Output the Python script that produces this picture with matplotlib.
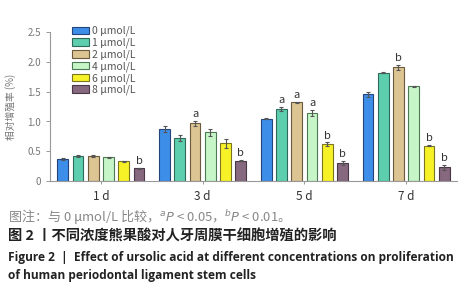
import matplotlib
matplotlib.use('Agg')
import matplotlib.pyplot as plt
import numpy as np

plt.rcParams['font.family'] = ['Noto Sans CJK SC', 'DejaVu Sans']

days = ['1 d', '3 d', '5 d', '7 d']
concs = ['0 μmol/L', '1 μmol/L', '2 μmol/L', '4 μmol/L', '6 μmol/L', '8 μmol/L']

# rows = concentration, cols = day
means = np.array([
    [0.37, 0.87, 1.05, 1.46],
    [0.42, 0.73, 1.21, 1.82],
    [0.42, 0.97, 1.32, 1.91],
    [0.40, 0.82, 1.14, 1.59],
    [0.33, 0.63, 0.62, 0.59],
    [0.21, 0.34, 0.30, 0.23],
])
errs = np.array([
    [0.01, 0.05, 0.01, 0.04],
    [0.01, 0.05, 0.04, 0.01],
    [0.01, 0.04, 0.01, 0.04],
    [0.01, 0.06, 0.05, 0.01],
    [0.01, 0.08, 0.03, 0.01],
    [0.01, 0.01, 0.04, 0.04],
])
marks = [
    ['', '', '', ''],
    ['', '', 'a', ''],
    ['', 'a', 'a', 'b'],
    ['', '', 'a', ''],
    ['', '', 'b', 'b'],
    ['b', 'b', 'b', 'b'],
]

colors = ['#3d8ee8', '#5ecfae', '#dcc493', '#c6f5c8', '#f7f227', '#86687f']
edges = ['#24447a', '#2f6b5a', '#6b5a3e', '#4d7a55', '#7a7520', '#4a3848']

fig = plt.figure(figsize=(4.77, 3.0), dpi=100)
ax = fig.add_axes([0.105, 0.397, 0.853, 0.495])

x = np.arange(len(days))
step = 0.15
width = 0.105
for i in range(len(concs)):
    xs = x + (i - 2.5) * step
    ax.bar(xs, means[i], width, color=colors[i], edgecolor=edges[i], linewidth=0.8,
           yerr=errs[i], error_kw=dict(ecolor='#555555', elinewidth=0.8, capsize=1.5, capthick=0.8),
           label=concs[i])
    for j in range(len(days)):
        if marks[i][j]:
            ax.text(xs[j], means[i][j] + errs[i][j] + 0.03, marks[i][j],
                    ha='center', va='bottom', fontsize=8, color='#333333')

ax.set_xlim(-0.5, 3.5)
ax.set_ylim(0, 2.5)
ax.set_yticks([0, 0.5, 1.0, 1.5, 2.0, 2.5])
ax.set_yticklabels(['0', '0.5', '1.0', '1.5', '2.0', '2.5'])
ax.set_xticks(x)
ax.set_xticklabels(days, fontsize=8.5, color='#333333')
ax.tick_params(axis='y', labelsize=7, labelcolor='#777777', color='#999999', length=3, width=0.7)
ax.tick_params(axis='x', color='#999999', length=2.5, width=0.7, pad=4)
for s in ['top', 'right']:
    ax.spines[s].set_visible(False)
for s in ['left', 'bottom']:
    ax.spines[s].set_color('#999999')
    ax.spines[s].set_linewidth(0.8)
ax.set_ylabel('相对增殖率 (%)', fontsize=7, color='#777777', labelpad=8)

ax.legend(loc='upper left', bbox_to_anchor=(72 / 477, 1 - 26 / 300),
          bbox_transform=fig.transFigure, frameon=False, fontsize=7.5,
          borderpad=0, borderaxespad=0,
          handlelength=1.6, handleheight=0.75, labelspacing=0.12, handletextpad=0.35,
          labelcolor='#555555')

fig.text(0.017, 0.277, '图注：与 0 μmol/L 比较，$^a$$\\it{P}$ < 0.05，$^b$$\\it{P}$ < 0.01。',
         fontsize=9.4, color='#888888', va='center')
fig.text(0.017, 0.21, '图 2 丨不同浓度熊果酸对人牙周膜干细胞增殖的影响',
         fontsize=10.3, color='#222222', va='center', fontweight='bold')
fig.text(0.017, 0.143, 'Figure 2  |  Effect of ursolic acid at different concentrations on proliferation',
         fontsize=8.6, color='#222222', va='center', fontweight='bold', family='Open Sans')
fig.text(0.017, 0.08, 'of human periodontal ligament stem cells',
         fontsize=8.6, color='#222222', va='center', fontweight='bold', family='Open Sans')

fig.savefig('out.png', dpi=100)
